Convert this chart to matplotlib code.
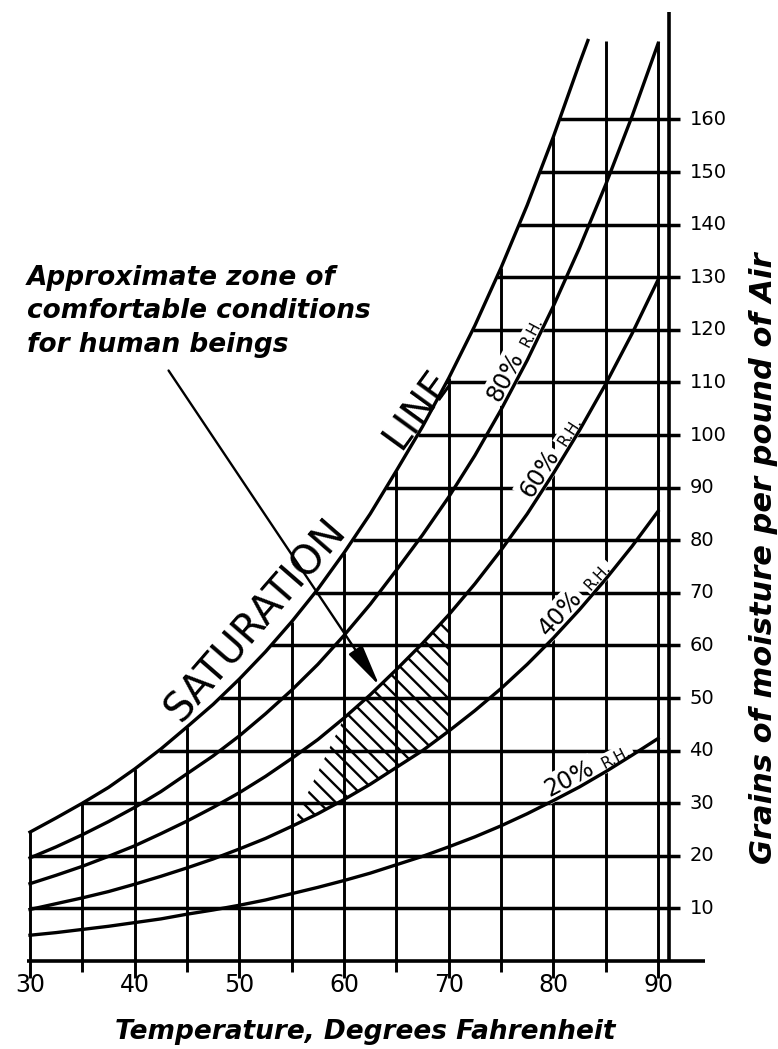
import numpy as np
import matplotlib.pyplot as plt

plt.rcParams['font.family'] = ['DejaVu Sans']
plt.rcParams['hatch.linewidth'] = 1.7

# temperatures (deg F) at which the relative humidity curves were read
temps = [30, 32.5, 35, 37.5, 40, 42.5, 45, 47.5, 50, 52.5, 55, 57.5, 60,
         62.5, 65, 67.5, 70, 72.5, 75, 77.5, 80, 82.5, 85, 87.5, 90]

# saturation line, stops near 83 deg at the top of the sheet
sat_temps = [30, 32.5, 35, 37.5, 40, 42.5, 45, 47.5, 50, 52.5, 55, 57.5, 60,
             62.5, 65, 67.5, 70, 72.5, 75, 77.5, 80, 82.5, 83.3]
sat_grains = [24.5, 27.2, 30.0, 33.0, 36.5, 40.3, 44.5, 48.8, 53.6, 58.8, 64.5, 70.7, 77.6,
              85.0, 93.2, 101.6, 110.8, 120.8, 131.8, 143.7, 156.7, 170.7, 175.0]

# grains of moisture per pound of air
rh80 = [19.6, 21.7, 24.0, 26.5, 29.2, 32.2, 35.6, 39.0, 42.8, 47.0, 51.5, 56.4, 61.9,
        67.8, 74.3, 81.0, 88.2, 96.1, 104.8, 114.2, 124.5, 135.6, 147.6, 160.5, 174.4]
rh60 = [14.7, 16.3, 18.0, 19.9, 21.9, 24.2, 26.6, 29.2, 32.0, 35.1, 38.5, 42.1, 46.2,
        50.6, 55.4, 60.4, 65.8, 71.7, 78.1, 85.0, 92.7, 100.9, 109.7, 119.2, 129.5]
rh40 = [9.8, 10.9, 12.0, 13.2, 14.6, 16.1, 17.7, 19.4, 21.3, 23.3, 25.6, 28.0, 30.7,
        33.6, 36.8, 40.0, 43.7, 47.6, 51.8, 56.4, 61.4, 66.8, 72.6, 78.8, 85.5]
rh20 = [4.9, 5.4, 6.0, 6.6, 7.3, 8.0, 8.9, 9.7, 10.6, 11.6, 12.8, 14.0, 15.3,
        16.7, 18.3, 19.9, 21.7, 23.6, 25.7, 28.0, 30.5, 33.1, 36.0, 39.1, 42.3]

temp_grid = [30, 35, 40, 45, 50, 55, 60, 65, 70, 75, 80, 85, 90]
grain_grid = [10, 20, 30, 40, 50, 60, 70, 80, 90, 100, 110, 120, 130, 140, 150, 160]
temp_labels = ['30', '40', '50', '60', '70', '80', '90']
grain_labels = ['10', '20', '30', '40', '50', '60', '70', '80', '90', '100',
                '110', '120', '130', '140', '150', '160']

# comfort zone: between 40% and 60% R.H., 55 to 70 deg
zone_low = (55, 70)
zone_high = (60, 70)

fig = plt.figure(figsize=(7.78, 10.49), dpi=100)
ax = fig.add_axes([0, 0, 1, 1])
ax.set_xlim(27.134, 101.46)
ax.set_ylim(-16.73, 182.7)
ax.axis('off')

ink = 'black'
lw = 2.1

# vertical lines, from the saturation line down through the base
for t in temp_grid:
    top = np.interp(t, sat_temps, sat_grains)
    bottom = -3.2 if t % 10 == 0 else -2.0
    ax.plot([t, t], [bottom, top], color=ink, lw=lw, solid_capstyle='butt', zorder=2)

# horizontal lines, from the saturation line out past the right edge
for g in grain_grid:
    left = np.interp(g, sat_grains, sat_temps)
    ax.plot([left, 92.1], [g, g], color=ink, lw=lw + 0.4, solid_capstyle='butt', zorder=2)

# base line and right hand upright
ax.plot([29.7, 94.5], [0, 0], color=ink, lw=2.6, solid_capstyle='butt', zorder=2)
ax.plot([91, 91], [0, 180.5], color=ink, lw=2.6, solid_capstyle='butt', zorder=2)

# curves
ax.plot(sat_temps, sat_grains, color=ink, lw=2.4, zorder=4)
for series in (rh80, rh60, rh40, rh20):
    ax.plot(temps, series, color=ink, lw=2.4, zorder=4)

# hatched zone
t_arr = np.array(temps)
lo = (t_arr >= zone_low[0]) & (t_arr <= zone_low[1])
hi = (t_arr >= zone_high[0]) & (t_arr <= zone_high[1])
zone_t = list(t_arr[lo]) + list(t_arr[hi][::-1])
zone_g = list(np.array(rh40)[lo]) + list(np.array(rh60)[hi][::-1])
ax.fill(zone_t, zone_g, facecolor='none', edgecolor=ink, lw=0, hatch='\\\\', zorder=1)

# tick labels
for lab in temp_labels:
    ax.text(float(lab), -4.6, lab, ha='center', va='center', fontsize=17, zorder=5)
for g, lab in zip(grain_grid, grain_labels):
    ax.text(93.0, g, lab, ha='left', va='center', fontsize=14, zorder=5)

# saturation line name
ax.text(51.6, 64.8, 'SATURATION', rotation=49, rotation_mode='anchor',
        ha='center', va='center', fontsize=29, zorder=5)
ax.text(66.97, 104.8, 'LINE', rotation=54, rotation_mode='anchor',
        ha='center', va='center', fontsize=28, zorder=5)

# R.H. names, laid along their curve (white box breaks the grid behind them)
white = dict(facecolor='white', edgecolor='none', pad=1.5)
rh_names = [('80%', rh80, 18, 3.5), ('60%', rh60, 19, 16.7),
            ('40%', rh40, 20, 3.6), ('20%', rh20, 20, 9.1)]
for pct, series, i, s in rh_names:
    p0 = ax.transData.transform((temps[i], series[i]))
    p1 = ax.transData.transform((temps[i + 1], series[i + 1]))
    ang = np.arctan2(p1[1] - p0[1], p1[0] - p0[0])
    mid = ((temps[i] + temps[i + 1]) / 2, (series[i] + series[i + 1]) / 2)
    for txt, size, along, off in ((pct, 17, s, 12), ('R.H.', 11, s + 52, 9)):
        ox = along * np.cos(ang) - off * np.sin(ang)
        oy = along * np.sin(ang) + off * np.cos(ang)
        ax.annotate(txt, xy=mid, xytext=(ox, oy), textcoords='offset pixels',
                    rotation=np.degrees(ang), rotation_mode='anchor',
                    ha='center', va='center', fontsize=size, bbox=white, zorder=3)

# note and arrow
ax.text(29.71, 132.4, 'Approximate zone of\ncomfortable conditions\nfor human beings',
        ha='left', va='top', fontsize=19, fontstyle='italic', fontweight='bold',
        linespacing=1.38, zorder=5)
ax.annotate('', xy=(63.53, 51.9), xytext=(43.09, 112.7),
            arrowprops=dict(arrowstyle='-|>,head_length=1.3,head_width=0.25',
                            mutation_scale=20, lw=1.7, color=ink), zorder=5)

# axis titles
ax.text(62.0, -13.5, 'Temperature, Degrees Fahrenheit', ha='center', va='center',
        fontsize=19, fontstyle='italic', fontweight='bold')
ax.text(100.03, 76.6, 'Grains of moisture per pound of Air', rotation=90,
        ha='center', va='center', fontsize=22, fontstyle='italic', fontweight='bold')

fig.savefig('out.png', dpi=100, facecolor='white')
